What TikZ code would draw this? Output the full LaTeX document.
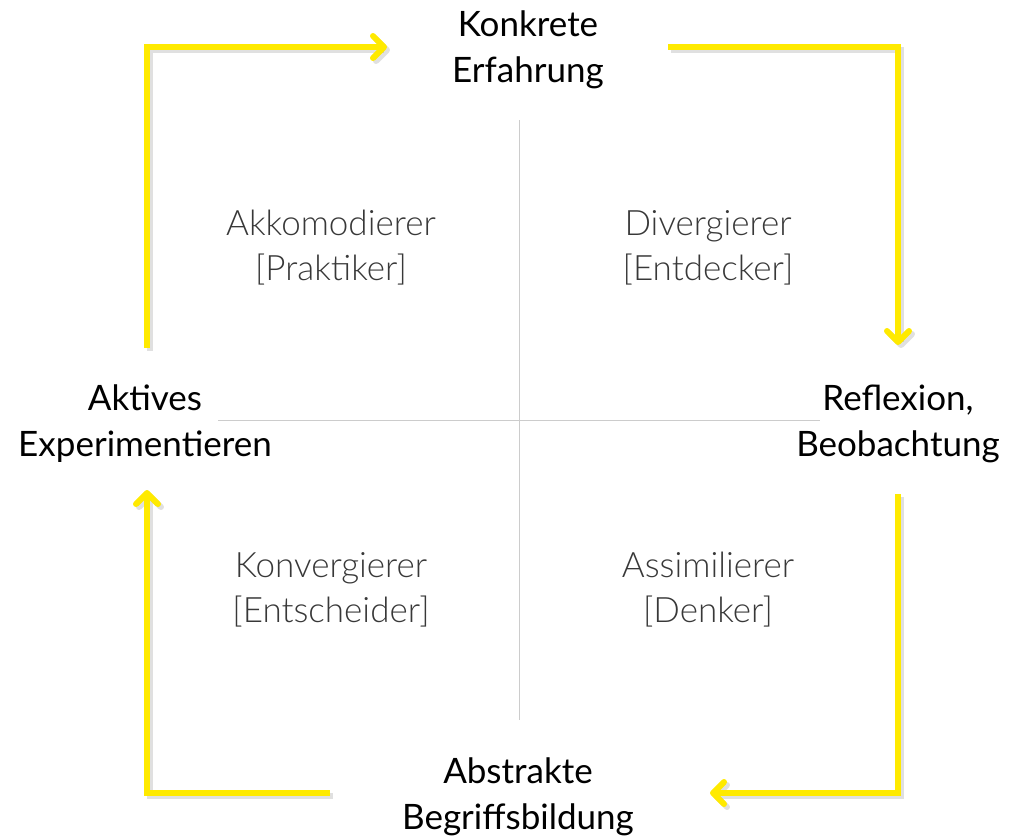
\documentclass[tikz,border=0pt]{standalone}
\usepackage{fontspec}
\setmainfont{Lato}
\newfontfamily\lightfont{Lato Light}
\usetikzlibrary{arrows.meta}

% Colours of the cycle
\definecolor{cycleyellow}{rgb}{1.000000,0.917647,0.000000}
\definecolor{axisgray}{rgb}{0.800000,0.800000,0.800000}
\definecolor{typegray}{rgb}{0.220000,0.220000,0.220000}

\tikzset{
  cyclearrow/.style={line width=6pt, cycleyellow, line join=miter,
    -{Straight Barb[length=11pt,width=22pt,round]}},
  cycleshadow/.style={line width=6pt, black, opacity=0.12, line join=miter,
    -{Straight Barb[length=11pt,width=22pt,round]},
    transform canvas={shift={(3pt,-3pt)}}},
  axisline/.style={line width=1pt, axisgray},
  phaselabel/.style={font=\fontsize{35}{46}\selectfont, align=center},
  typelabel/.style={font=\lightfont\fontsize{35}{45}\selectfont, text=typegray, align=center},
}

\begin{document}
\begin{tikzpicture}[x=1pt,y=-1pt]
                    \useasboundingbox (0.000000,0.000000) rectangle (1017.000000,836.000000);

                    % Axes
                    \coordinate (axtop) at (519.000000,120.000000);
                    \coordinate (axbottom) at (519.000000,720.000000);
                    \coordinate (axleft) at (218.000000,420.000000);
                    \coordinate (axright) at (820.000000,420.000000);
                    \draw [axisline] (axtop) -- (axbottom);%
                    \draw [axisline] (axleft) -- (axright);%

                    % Marking phases
                    \node [phaselabel] (konkret) at (528.000000,50.000000) {Konkrete\\Erfahrung};%
                    \node [phaselabel] (reflexion) at (898.000000,424.000000) {Reflexion,\\Beobachtung};%
                    \node [phaselabel] (abstrakt) at (518.000000,797.000000) {Abstrakte\\Begriffsbildung};%
                    \node [phaselabel] (aktiv) at (145.000000,424.000000) {Aktives\\Experimentieren};%

                    % Marking learning types
                    \node [typelabel] (akkomodierer) at (331.000000,248.000000) {Akkomodierer\\{[}Praktiker{]}};%
                    \node [typelabel] (divergierer) at (708.000000,248.000000) {Divergierer\\{[}Entdecker{]}};%
                    \node [typelabel] (konvergierer) at (331.000000,590.000000) {Konvergierer\\{[}Entscheider{]}};%
                    \node [typelabel] (assimilierer) at (708.000000,590.000000) {Assimilierer\\{[}Denker{]}};%

                    % Corners and ends of the cycle
                    \coordinate (tlstart) at (147.000000,348.000000);
                    \coordinate (tlcorner) at (147.000000,47.000000);
                    \coordinate (tlend) at (387.000000,47.000000);
                    \coordinate (trstart) at (668.000000,47.000000);
                    \coordinate (trcorner) at (898.000000,47.000000);
                    \coordinate (trend) at (898.000000,345.000000);
                    \coordinate (brstart) at (898.000000,494.000000);
                    \coordinate (brcorner) at (898.000000,793.000000);
                    \coordinate (brend) at (710.000000,793.000000);
                    \coordinate (blstart) at (330.000000,793.000000);
                    \coordinate (blcorner) at (147.000000,793.000000);
                    \coordinate (blend) at (147.000000,490.000000);

                    % Drawing shadows
                    \draw [cycleshadow] (tlstart) -- (tlcorner) -- (tlend);%
                    \draw [cycleshadow] (trstart) -- (trcorner) -- (trend);%
                    \draw [cycleshadow] (brstart) -- (brcorner) -- (brend);%
                    \draw [cycleshadow] (blstart) -- (blcorner) -- (blend);%

                    % Drawing cycle arrows
                    \draw [cyclearrow] (tlstart) -- (tlcorner) -- (tlend);%
                    \draw [cyclearrow] (trstart) -- (trcorner) -- (trend);%
                    \draw [cyclearrow] (brstart) -- (brcorner) -- (brend);%
                    \draw [cyclearrow] (blstart) -- (blcorner) -- (blend);%
\end{tikzpicture}
\end{document}
